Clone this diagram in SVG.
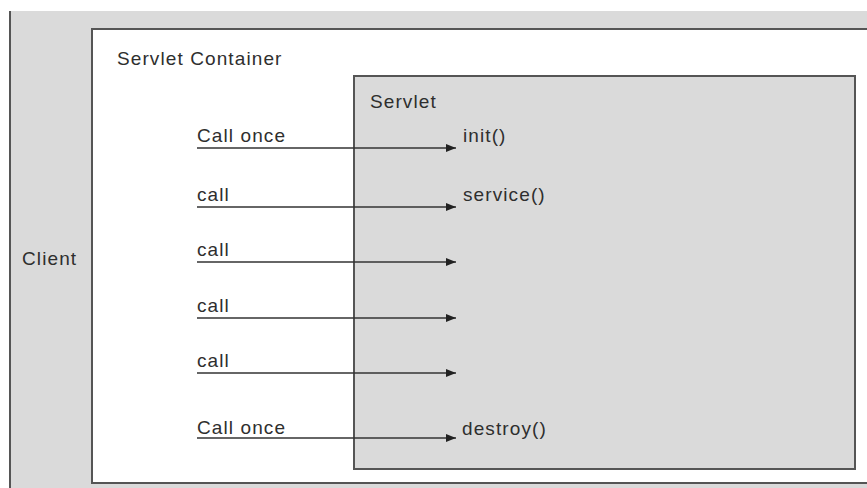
<svg xmlns="http://www.w3.org/2000/svg" width="867" height="488" viewBox="0 0 867 488">
  <style>
    .lbl { font-family: "Liberation Sans", Arial, sans-serif; font-size: 19px; letter-spacing: 1.1px; fill: #2e2e2e; }
    .box { stroke: #555; stroke-width: 2; }
    .conn { stroke: #333; stroke-width: 1.6; fill: none; marker-end: url(#arrow); }
  </style>
  <defs>
    <marker id="arrow" viewBox="0 0 10 8" refX="10" refY="4" markerWidth="10" markerHeight="8" markerUnits="userSpaceOnUse" orient="auto">
      <path d="M0,0 L10,4 L0,8 Z" fill="#222"/>
    </marker>
  </defs>

  <rect width="867" height="488" fill="#ffffff"/>

  <!-- Client area -->
  <g id="client">
    <rect x="10" y="11" width="857" height="477" fill="#dadada"/>
    <line x1="10" y1="11" x2="10" y2="488" class="box"/>
    <text x="22" y="265" class="lbl">Client</text>
  </g>

  <!-- Servlet container -->
  <g id="container">
    <path d="M868,29 H92 V483 H868" fill="#ffffff" class="box"/>
    <text x="117" y="65" class="lbl">Servlet Container</text>
  </g>

  <!-- Servlet -->
  <g id="servlet">
    <rect x="354" y="76" width="501" height="393" fill="#dadada" class="box"/>
    <text x="370" y="108" class="lbl">Servlet</text>
    <text x="463" y="142" class="lbl">init()</text>
    <text x="463" y="201" class="lbl">service()</text>
    <text x="462" y="435" class="lbl">destroy()</text>
  </g>

  <!-- Calls -->
  <g id="connectors">
    <line x1="197" y1="148" x2="456" y2="148" class="conn"/>
    <line x1="197" y1="207" x2="456" y2="207" class="conn"/>
    <line x1="197" y1="262" x2="456" y2="262" class="conn"/>
    <line x1="197" y1="318" x2="456" y2="318" class="conn"/>
    <line x1="197" y1="373" x2="456" y2="373" class="conn"/>
    <line x1="197" y1="438" x2="456" y2="438" class="conn"/>
    <text x="197" y="142" class="lbl">Call once</text>
    <text x="197" y="201" class="lbl">call</text>
    <text x="197" y="256" class="lbl">call</text>
    <text x="197" y="312" class="lbl">call</text>
    <text x="197" y="367" class="lbl">call</text>
    <text x="197" y="434" class="lbl">Call once</text>
  </g>
</svg>
